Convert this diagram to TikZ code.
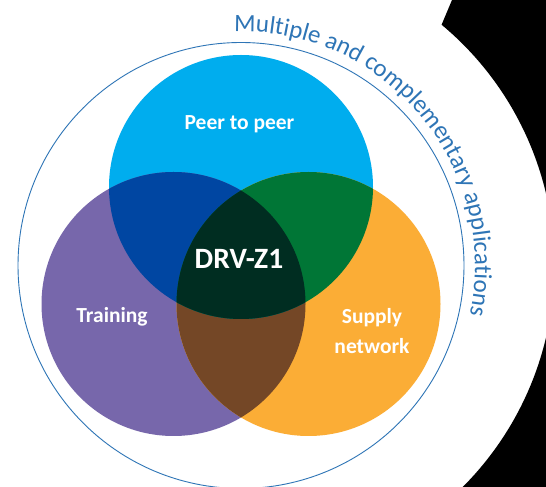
\documentclass[tikz,border=0pt]{standalone}
\usepackage{fontspec}
\setmainfont{Carlito}
\newfontfamily\arcfam{Carlito}
\usetikzlibrary{decorations.text,calc}
\definecolor{cblue}{RGB}{0,173,238}
\definecolor{cpurple}{RGB}{119,103,171}
\definecolor{corange}{RGB}{251,173,54}
\definecolor{cbp}{RGB}{0,70,162}
\definecolor{cbo}{RGB}{0,118,54}
\definecolor{cpo}{RGB}{116,71,38}
\definecolor{call}{RGB}{0,45,33}
\definecolor{arcblue}{RGB}{46,117,182}
\newcommand\arcfont{\arcfam\fontsize{25}{25}\selectfont\color{arcblue}}
\tikzset{
  lbl/.style={text=white, font=\bfseries\fontsize{21.5}{30}\selectfont, anchor=base, inner sep=0pt, align=center},
  big/.style={text=white, font=\bfseries\fontsize{29.5}{30}\selectfont, anchor=base, inner sep=0pt}
}
\begin{document}
\begin{tikzpicture}[x=1pt,y=1pt]
\useasboundingbox (0,0) rectangle (546,487);
\clip (0,0) rectangle (546,487);
\fill[white] (0,0) rectangle (546,487);
\coordinate (C) at (241,221.5);
\coordinate (B) at (241,300);
\coordinate (P) at (173.5,183);
\coordinate (O) at (308.5,183);
% black region on the right
\fill[black] (452,487) -- ($(C)+(50.2:313.4)$) arc[start angle=50.2,end angle=-55,radius=313.4] -- (600,-60) -- (600,487) -- cycle;
% circles
\fill[cblue] (B) circle[radius=132];
\fill[cpurple] (P) circle[radius=132];
\fill[corange] (O) circle[radius=132];
\begin{scope}
  \clip (P) circle[radius=132];
  \fill[cpo] (O) circle[radius=132];
\end{scope}
\begin{scope}
  \clip (B) circle[radius=132];
  \fill[cbp] (P) circle[radius=132];
  \fill[cbo] (O) circle[radius=132];
  \clip (P) circle[radius=132];
  \fill[call] (O) circle[radius=132];
\end{scope}
% outer ring
\draw[arcblue, line width=0.9] (C) circle[radius=223];
% arc text
\path[decorate, decoration={text along path, text align=left,
  text={|\arcfont|Multiple and complementary applications}}]
  ($(C)+(91.7:234)$) arc[start angle=91.7, end angle=-40, radius=234];
% labels
\node[lbl] (peer) at (239.5,357) {Peer to peer};
\node[lbl] (training) at (112,164) {Training};
\node[lbl] (supply) at (372,133) {Supply\\network};
\node[big] (drv) at (239,218.7) {DRV-Z1};
\end{tikzpicture}
\end{document}
